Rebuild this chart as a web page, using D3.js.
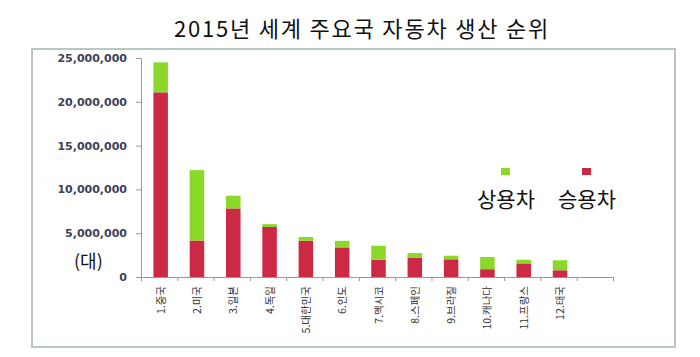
<!DOCTYPE html>
<html><head><meta charset="utf-8">
<script src="https://cdn.jsdelivr.net/npm/d3@7"></script>
<style>body{margin:0;background:#fff}svg{display:block}</style>
</head><body>
<svg id="c" width="700" height="357"></svg>
<script>
const categories = ["1.중국","2.미국","3.일본","4.독일","5.대한민국","6.인도","7.멕시코","8.스페인","9.브라질","10.캐나다","11.프랑스","12.태국"];
const passenger = [21080000,4160000,7830000,5710000,4140000,3380000,1970000,2220000,2020000,890000,1550000,770000];
const commercial = [3420000,8040000,1450000,320000,420000,750000,1600000,510000,410000,1390000,420000,1140000];
const yTicks = [0,5000000,10000000,15000000,20000000,25000000];
const seriesNames = ["상용차","승용차"];
const colors = {green:"#8cd829", red:"#cc2944"};

const svg = d3.select("#c");
const font = "'Noto Sans CJK KR', 'Noto Sans', sans-serif";

// frame
svg.append("rect").attr("x",32).attr("y",49).attr("width",643).attr("height",298)
  .attr("fill","none").attr("stroke","#b7c7c3").attr("stroke-width",2);

// title
svg.append("text").attr("x",362).attr("y",37).attr("text-anchor","middle")
  .attr("font-family",font).attr("font-size",22).attr("letter-spacing","1.8px").attr("fill","#111")
  .text("2015년 세계 주요국 자동차 생산 순위");

const domain = categories.concat([""]);
const x = d3.scaleBand().domain(domain).range([141,613]).paddingInner(0.6).paddingOuter(0.3);
const y = d3.scaleLinear().domain([0,25000000]).range([277,58]);

const axisColor = "#999";
const gY = svg.append("g").attr("transform","translate(141,0)")
  .call(d3.axisLeft(y).tickValues(yTicks).tickSize(5).tickFormat(d3.format(",")));
gY.select(".domain").attr("stroke",axisColor);
gY.selectAll(".tick line").attr("stroke",axisColor);
gY.selectAll(".tick text").attr("x",-14).attr("font-family","Verdana, 'DejaVu Sans', sans-serif")
  .attr("font-size",11).attr("font-weight","bold").attr("fill","#3d4257");

const xb = d3.scaleLinear().domain([0,13]).range([141,613]);
const gX = svg.append("g").attr("transform","translate(0,277)")
  .call(d3.axisBottom(xb).tickValues(d3.range(14)).tickSize(4).tickFormat(""));
gX.select(".domain").attr("stroke",axisColor);
gX.selectAll(".tick line").attr("stroke",axisColor);

const data = categories.map((c,i)=>({c, p:passenger[i], m:commercial[i]}));
const bw = x.bandwidth();
svg.append("g").selectAll("rect").data(data).join("rect")
  .attr("x",d=>x(d.c)+1.5).attr("width",bw)
  .attr("y",d=>y(d.p)).attr("height",d=>y(0)-y(d.p)).attr("fill",colors.red);
svg.append("g").selectAll("rect").data(data).join("rect")
  .attr("x",d=>x(d.c)+1.5).attr("width",bw)
  .attr("y",d=>y(d.p+d.m)).attr("height",d=>y(d.p)-y(d.p+d.m)).attr("fill",colors.green);

svg.append("g").selectAll("text").data(categories).join("text")
  .attr("transform",d=>`translate(${x(d)+1.5+bw/2+4},286) rotate(-90)`)
  .attr("text-anchor","end").attr("font-family",font).attr("font-size",10.5).attr("fill","#333")
  .text(d=>d);

svg.append("text").attr("x",74).attr("y",268).attr("font-family",font)
  .attr("font-size",18).attr("fill","#111").text("(대)");

const leg = [{n:seriesNames[0],c:colors.green,x:505},{n:seriesNames[1],c:colors.red,x:586}];
const lg = svg.append("g");
lg.selectAll("rect").data(leg).join("rect").attr("x",d=>d.x-4).attr("y",168).attr("width",9).attr("height",7).attr("fill",d=>d.c);
lg.selectAll("text").data(leg).join("text").attr("x",d=>d.x+1).attr("y",207).attr("text-anchor","middle")
  .attr("font-family",font).attr("font-size",21).attr("fill","#111").text(d=>d.n);
</script>
</body></html>
